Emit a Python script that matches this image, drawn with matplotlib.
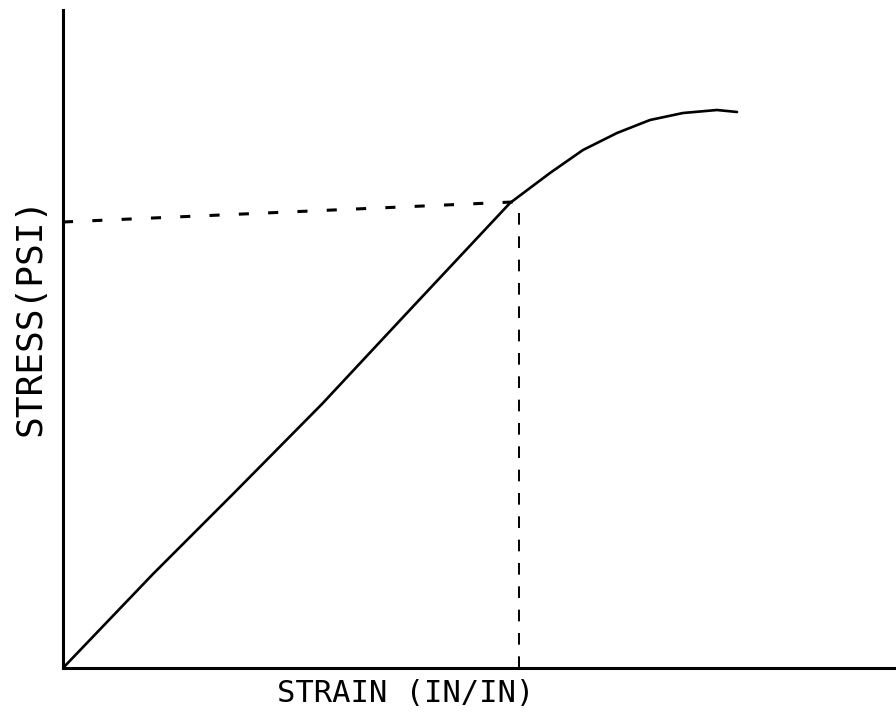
import matplotlib
matplotlib.use("Agg")
import matplotlib.pyplot as plt

# stress-strain curve (arbitrary units)
strain = [0, 90, 170, 259, 343, 447, 487, 520, 554, 587, 620, 654, 674]
stress = [0, 94, 174, 264, 354, 465, 495, 518, 535, 548, 555, 558, 556]

# yield point marker lines
yield_strain = 456
yield_h_x = [0, 450]
yield_h_y = [446, 466]
yield_v_y = [0, 463]

x_max = 833
y_max = 658

fig = plt.figure(figsize=(8.96, 7.17), dpi=100)
ax = fig.add_axes([63 / 896, 49 / 717, 833 / 896, 658 / 717])

ax.plot(strain, stress, color='black', lw=1.9, solid_capstyle='round',
        solid_joinstyle='round')
ax.plot(yield_h_x, yield_h_y, color='black', lw=2.2, dashes=(3.3, 6.3))
ax.plot([yield_strain, yield_strain], yield_v_y, color='black', lw=1.4, dashes=(6, 6))

ax.set_xlim(0, x_max)
ax.set_ylim(0, y_max)
ax.set_xticks([])
ax.set_yticks([])
for side in ['top', 'right']:
    ax.spines[side].set_visible(False)
for side in ['left', 'bottom']:
    ax.spines[side].set_linewidth(2.2)

fam = ['DejaVu Sans Mono', 'DejaVu Sans']
fig.text(406 / 896, 1 - 693 / 717, 'STRAIN (IN/IN)', ha='center', va='center',
         fontsize=22, family=fam)
fig.text(30 / 896, 1 - 316 / 717, 'STRESS(PSI)', ha='center', va='center',
         rotation=90, fontsize=26, family=fam)

fig.savefig('out.png', dpi=100, facecolor='white')
